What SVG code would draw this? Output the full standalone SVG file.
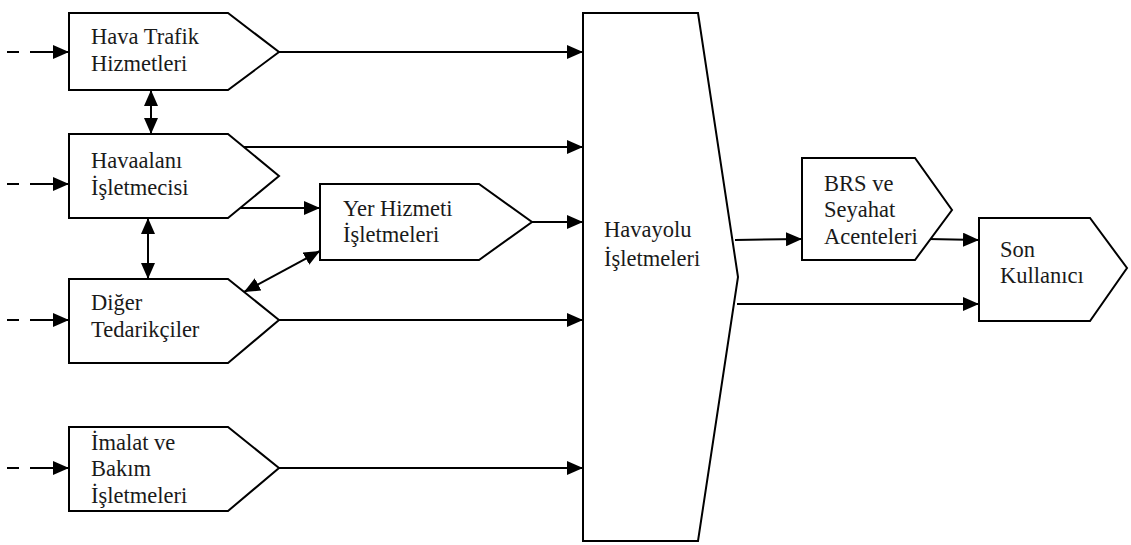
<svg xmlns="http://www.w3.org/2000/svg" width="1131" height="545" viewBox="0 0 1131 545">
  <style>
    .box { fill: #ffffff; stroke: #000000; stroke-width: 2; stroke-linejoin: miter; }
    .lbl { font-family: 'Liberation Serif', 'Times New Roman', Times, Tinos, 'Noto Serif', 'DejaVu Serif', serif; font-size: 22.5px; fill: #1a1a1a; }
    .con { fill: none; stroke: #000000; stroke-width: 2; }
  </style>
  <defs>
    <marker id="arrow" viewBox="0 0 16 14" refX="16" refY="7" markerWidth="16" markerHeight="14" markerUnits="userSpaceOnUse" orient="auto-start-reverse">
      <path d="M0,0 L16,7 L0,14 z" fill="#000000"/>
    </marker>
  </defs>

  <rect width="1131" height="545" fill="#ffffff"/>

  <!-- connectors -->
  <g id="connectors">
    <!-- dashed inputs from outside -->
    <path class="con" d="M7 52 H19 M30 52 H69" marker-end="url(#arrow)"/>
    <path class="con" d="M7 184 H19 M30 184 H69" marker-end="url(#arrow)"/>
    <path class="con" d="M7 320 H19 M30 320 H69" marker-end="url(#arrow)"/>
    <path class="con" d="M7 468 H19 M30 468 H69" marker-end="url(#arrow)"/>

    <!-- two-way links between suppliers -->
    <line class="con" x1="151" y1="90" x2="151" y2="134" marker-start="url(#arrow)" marker-end="url(#arrow)"/>
    <line class="con" x1="148" y1="218" x2="148" y2="279" marker-start="url(#arrow)" marker-end="url(#arrow)"/>
    <line class="con" x1="244" y1="292" x2="320" y2="251" marker-start="url(#arrow)" marker-end="url(#arrow)"/>

    <!-- flows into the airline -->
    <line class="con" x1="279" y1="52" x2="583" y2="52" marker-end="url(#arrow)"/>
    <line class="con" x1="243" y1="147" x2="583" y2="147" marker-end="url(#arrow)"/>
    <line class="con" x1="240" y1="208" x2="320" y2="208" marker-end="url(#arrow)"/>
    <line class="con" x1="532" y1="222" x2="583" y2="222" marker-end="url(#arrow)"/>
    <line class="con" x1="279" y1="320" x2="583" y2="320" marker-end="url(#arrow)"/>
    <line class="con" x1="279" y1="468" x2="583" y2="468" marker-end="url(#arrow)"/>

    <!-- flows towards the end user -->
    <line class="con" x1="735" y1="240" x2="802" y2="239" marker-end="url(#arrow)"/>
    <line class="con" x1="928" y1="239" x2="979" y2="240" marker-end="url(#arrow)"/>
    <line class="con" x1="737" y1="304" x2="979" y2="304" marker-end="url(#arrow)"/>
  </g>

  <g id="hava-trafik">
    <polygon class="box" points="69,13 228,13 279,52 228,90 69,90"/>
    <text class="lbl" x="91" y="44">Hava Trafik</text>
    <text class="lbl" x="91" y="71">Hizmetleri</text>
  </g>

  <g id="havaalani">
    <polygon class="box" points="69,134 228,134 279,176 228,218 69,218"/>
    <text class="lbl" x="91" y="168">Havaalanı</text>
    <text class="lbl" x="91" y="195">İşletmecisi</text>
  </g>

  <g id="diger-tedarikciler">
    <polygon class="box" points="69,279 228,279 279,320 228,363 69,363"/>
    <text class="lbl" x="91" y="310">Diğer</text>
    <text class="lbl" x="91" y="337">Tedarikçiler</text>
  </g>

  <g id="imalat-bakim">
    <polygon class="box" points="69,427 228,427 279,468 228,511 69,511"/>
    <text class="lbl" x="91" y="450">İmalat ve</text>
    <text class="lbl" x="91" y="476">Bakım</text>
    <text class="lbl" x="91" y="503">İşletmeleri</text>
  </g>

  <g id="yer-hizmeti">
    <polygon class="box" points="320,184 479,184 532,222 479,260 320,260"/>
    <text class="lbl" x="343" y="216">Yer Hizmeti</text>
    <text class="lbl" x="343" y="242">İşletmeleri</text>
  </g>

  <g id="havayolu">
    <polygon class="box" points="583,13 698,13 738,277 698,541 583,541"/>
    <text class="lbl" x="604" y="237">Havayolu</text>
    <text class="lbl" x="604" y="266">İşletmeleri</text>
  </g>

  <g id="brs-seyahat">
    <polygon class="box" points="802,158 915,158 952,210 915,260 802,260"/>
    <text class="lbl" x="824" y="191">BRS ve</text>
    <text class="lbl" x="824" y="217">Seyahat</text>
    <text class="lbl" x="824" y="244">Acenteleri</text>
  </g>

  <g id="son-kullanici">
    <polygon class="box" points="979,218 1090,218 1127,268 1090,321 979,321"/>
    <text class="lbl" x="1000" y="257">Son</text>
    <text class="lbl" x="1000" y="283">Kullanıcı</text>
  </g>
</svg>
